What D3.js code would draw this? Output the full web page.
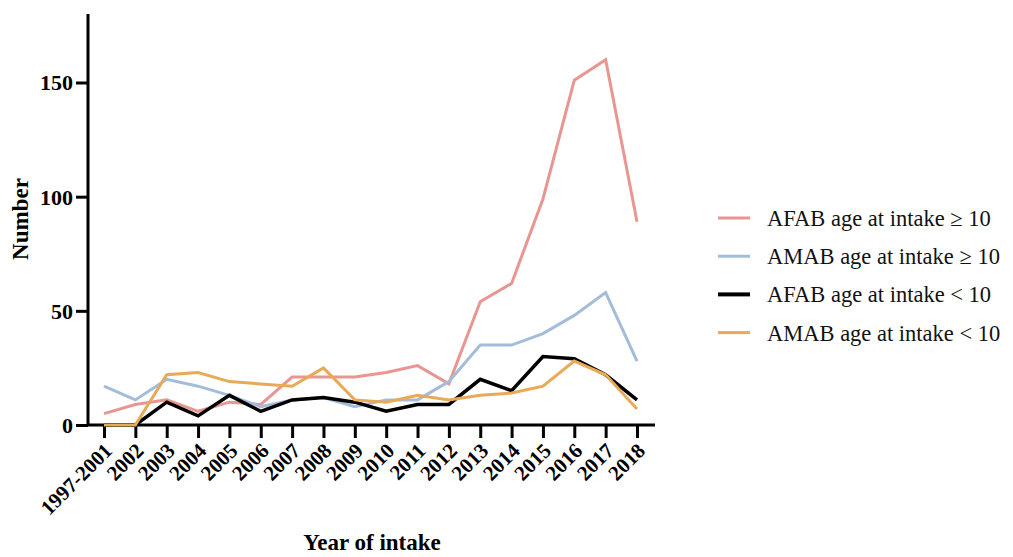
<!DOCTYPE html>
<html><head><meta charset="utf-8">
<script src="https://cdn.jsdelivr.net/npm/d3@7"></script>
<style>body{margin:0;background:#fff}svg{display:block}text{font-family:"Liberation Serif","Times New Roman",serif}</style>
</head><body><svg id="c" width="1013" height="557"></svg>
<script>
const categories = ["1997-2001","2002","2003","2004","2005","2006","2007","2008","2009","2010","2011","2012","2013","2014","2015","2016","2017","2018"];
const afabOver10 = [5,9,11,6,10,9,21,21,21,23,26,18,54,62,99,151,160,89];
const amabOver10 = [17,11,20,17,13,8,11,12,8,11,11,19,35,35,40,48,58,28];
const afabUnder10 = [0,0,10,4,13,6,11,12,10,6,9,9,20,15,30,29,22,11];
const amabUnder10 = [0,0,22,23,19,18,17,25,11,10,13,11,13,14,17,28,22,7];
const yTicks = [0,50,100,150];
const seriesNames = ["AFAB age at intake \u2265 10","AMAB age at intake \u2265 10","AFAB age at intake < 10","AMAB age at intake < 10"];
const seriesColors = ["#e99592","#a3bcd9","#000000","#e9a955"];
const seriesWidths = [3,3,3.5,3];
const seriesData = [afabOver10, amabOver10, afabUnder10, amabUnder10];

const svg = d3.select("#c");
const x0 = 88, x1 = 655, yTop = 14, yBot = 425;
const x = d3.scalePoint().domain(categories).range([104, 637]);
const y = d3.scaleLinear().domain([0,180]).range([yBot, yTop]);

// y axis
const ya = svg.append("g").attr("transform",`translate(${x0},0)`)
  .call(d3.axisLeft(y).tickValues(yTicks).tickSize(12).tickPadding(3).tickFormat(d3.format("d")));
ya.select(".domain").attr("d",`M0,${yTop}V${yBot}`).attr("stroke","#000").attr("stroke-width",3);
ya.selectAll(".tick line").attr("stroke","#000").attr("stroke-width",3);
ya.selectAll(".tick text").attr("font-size",22).attr("font-weight","bold").attr("fill","#000")
  .attr("font-family","Liberation Serif, serif").attr("dy","0.34em");

// x axis
const xa = svg.append("g").attr("transform",`translate(0,${yBot})`)
  .call(d3.axisBottom(x).tickSize(13).tickPadding(4));
xa.select(".domain").attr("d",`M${x0},0H${x1}`).attr("stroke","#000").attr("stroke-width",3);
xa.selectAll(".tick line").attr("stroke","#000").attr("stroke-width",3);
xa.selectAll(".tick text").attr("font-size",21).attr("font-weight","bold").attr("fill","#000")
  .attr("font-family","Liberation Serif, serif")
  .attr("text-anchor","end").attr("dy",0).attr("y",0)
  .attr("transform","translate(9,27) rotate(-45)");

// lines
const line = d3.line().x((d,i)=>x(categories[i])).y(d=>y(d));
seriesData.forEach((s,k)=>{
  svg.append("path").datum(s).attr("d",line).attr("fill","none")
    .attr("stroke",seriesColors[k]).attr("stroke-width",seriesWidths[k])
    .attr("stroke-linejoin","miter");
});

// axis titles
svg.append("text").attr("x",372).attr("y",550).attr("text-anchor","middle")
  .attr("font-size",23).attr("font-weight","bold").text("Year of intake");
svg.append("text").attr("transform","translate(28,219) rotate(-90)").attr("text-anchor","middle")
  .attr("font-size",23).attr("font-weight","bold").text("Number");

// legend
const lg = svg.append("g");
seriesNames.forEach((n,k)=>{
  const yy = 218 + k*38.2;
  lg.append("line").attr("x1",718).attr("x2",750).attr("y1",yy).attr("y2",yy)
    .attr("stroke",seriesColors[k]).attr("stroke-width",k===2?4:3);
  lg.append("text").attr("x",767).attr("y",yy+8).attr("font-size",22.5).attr("fill","#111").text(n);
});
</script></body></html>
